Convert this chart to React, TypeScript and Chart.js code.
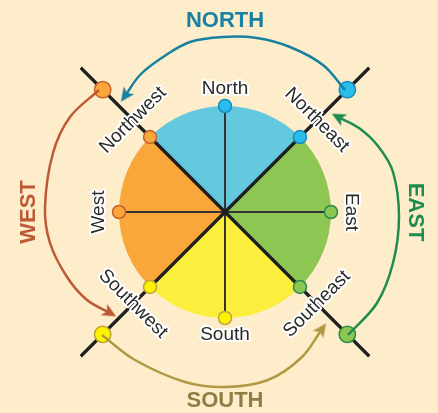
import React, { useEffect, useRef } from 'react';
import { Chart, registerables } from 'chart.js';

Chart.register(...registerables);

// ---------- data ----------
// Compass points on the disc (bearing = maths angle in degrees, 0 = east, 90 = north)
const directions = ['North', 'Northeast', 'East', 'Southeast', 'South', 'Southwest', 'West', 'Northwest'];
const bearings = [90, 45, 0, -45, -90, -135, 180, 135];
const directionTone = ['blue', 'blue', 'green', 'green', 'yellow', 'yellow', 'orange', 'orange'];

// Four quarters of the disc, clockwise from the top
const quarters = ['NORTH', 'EAST', 'SOUTH', 'WEST'];
const quarterBearing = [90, 0, -90, 180];
const quarterShare = [1, 1, 1, 1];
const quarterFill = ['#64C8DF', '#8DC653', '#FBEE3C', '#F9A73A'];
const quarterInk = ['#1880A0', '#1E8C50', '#8E7D45', '#BD5934'];
const arrowInk = ['#1880A0', '#1E8C50', '#B19944', '#BD5934'];

// Outer markers on the diagonals
const outerBearings = [45, -45, -135, 135];
const outerTone = ['blue', 'green', 'yellow', 'orange'];

// Curved arrows (offset from the centre in px, y up)
const northArrow = [[120, 122], [98, 147], [65, 165], [32, 174], [-2, 175], [-35, 170], [-62, 155], [-85, 137], [-100, 116]];
const eastArrow = [[123, -123], [152, -91], [168, -51], [174, -5], [168, 40], [153, 66], [134, 84], [113, 95]];
const southArrow = [[-123, -123], [-90, -148], [-40, -170], [0, -175], [43, -168], [77, -145], [97, -117]];
const westArrow = [[-126, 122], [-155, 95], [-172, 59], [-180, 5], [-175, -31], [-158, -65], [-138, -88], [-115, -101]];
const arrows = [northArrow, eastArrow, southArrow, westArrow];

// ---------- styles / geometry ----------
const BG = '#FEEDCA';
const DISC_R = 106;
const OUTER_R = 173;
const DIAG_R = 204;
const palette: Record<string, { fill: string; line: string }> = {
  blue: { fill: '#29BDEE', line: '#1A8CBC' },
  green: { fill: '#8DC653', line: '#2A8C4A' },
  yellow: { fill: '#FFF200', line: '#BDA53A' },
  orange: { fill: '#F9A73A', line: '#C8612E' },
};
const FONT = '"Liberation Sans", Arial, Helvetica, sans-serif';

const polar = (b: number, r: number) => ({
  x: r * Math.cos((b * Math.PI) / 180),
  y: r * Math.sin((b * Math.PI) / 180),
});
const readRot = (b: number) => (b >= 0 ? 90 - b : -90 - b);
const dirLabelR = (b: number) => (b % 90 !== 0 ? 130 : b === 0 || b === 180 ? 126.5 : 123);
const quarterLabelR: Record<string, number> = { NORTH: 191, EAST: 190, SOUTH: 189, WEST: 196 };
const OUTER_INDEX = 6;

// swept arrow-head sprite, pointing up (rotated by Chart.js pointRotation)
function arrowHead(color: string): HTMLCanvasElement {
  const c = document.createElement('canvas');
  c.width = 14;
  c.height = 15;
  const g = c.getContext('2d')!;
  g.fillStyle = color;
  g.beginPath();
  g.moveTo(7, 0.5);
  g.lineTo(13.5, 14.5);
  g.lineTo(7, 11);
  g.lineTo(0.5, 14.5);
  g.closePath();
  g.fill();
  return c;
}

const labelPlugin = {
  id: 'compassLabels',
  afterDatasetDraw(chart: any, args: any) {
    if (args.index !== OUTER_INDEX) return;
    const { ctx } = chart;
    const xs = chart.scales.x;
    const ys = chart.scales.y;
    ctx.save();
    ctx.font = `19px ${FONT}`;
    ctx.textAlign = 'center';
    ctx.textBaseline = 'middle';
    ctx.lineJoin = 'round';
    directions.forEach((name, i) => {
      const b = bearings[i];
      const p = polar(b, dirLabelR(b));
      ctx.save();
      ctx.translate(xs.getPixelForValue(p.x), ys.getPixelForValue(p.y));
      ctx.rotate((readRot(b) * Math.PI) / 180);
      ctx.strokeStyle = '#FFFFFF';
      ctx.lineWidth = 4;
      ctx.strokeText(name, 0, 0);
      ctx.fillStyle = '#2A2A2A';
      ctx.fillText(name, 0, 0);
      ctx.restore();
    });
    ctx.restore();
  },
  afterDatasetsDraw(chart: any) {
    const { ctx } = chart;
    const xs = chart.scales.x;
    const ys = chart.scales.y;
    ctx.save();
    ctx.font = `bold 22px ${FONT}`;
    ctx.textAlign = 'center';
    ctx.textBaseline = 'middle';
    quarters.forEach((name, i) => {
      const b = quarterBearing[i];
      const p = polar(b, quarterLabelR[name]);
      ctx.save();
      ctx.translate(xs.getPixelForValue(p.x), ys.getPixelForValue(p.y));
      ctx.rotate((readRot(b) * Math.PI) / 180);
      ctx.fillStyle = quarterInk[i];
      ctx.fillText(name, 0, 0);
      ctx.restore();
    });
    ctx.restore();
  },
};

function buildConfig(): any {
  const line = (pts: { x: number; y: number }[], color: string, width: number, order: number) => ({
    data: pts,
    showLine: true,
    borderColor: color,
    borderWidth: width,
    pointRadius: 0,
    order,
    weight: 0,
    clip: false,
  });

  const datasets: any[] = [
    {
      type: 'pie',
      data: quarterShare,
      backgroundColor: quarterFill,
      borderWidth: 0,
      hoverBorderWidth: 0,
      hoverOffset: 0,
      offset: 0,
      rotation: -45,
      cutout: 0,
      radius: DISC_R,
      order: 100,
      weight: 1,
    },
    line([polar(90, DISC_R), polar(-90, DISC_R)], '#333333', 2, 60),
    line([polar(0, DISC_R), polar(180, DISC_R)], '#333333', 2, 60),
    line([polar(135, DIAG_R), polar(-45, DIAG_R)], '#1E1E1E', 3.2, 50),
    line([polar(45, DIAG_R), polar(-135, DIAG_R)], '#1E1E1E', 3.2, 50),
    {
      data: bearings.map((b) => polar(b, DISC_R)),
      pointRadius: 6.5,
      pointBorderWidth: 1.5,
      pointBackgroundColor: directionTone.map((t) => palette[t].fill),
      pointBorderColor: directionTone.map((t) => palette[t].line),
      order: 40,
      weight: 0,
      clip: false,
    },
    {
      data: outerBearings.map((b) => polar(b, OUTER_R)),
      pointRadius: 8.2,
      pointBorderWidth: 1.5,
      pointBackgroundColor: outerTone.map((t) => palette[t].fill),
      pointBorderColor: outerTone.map((t) => palette[t].line),
      order: 30,
      weight: 0,
      clip: false,
    },
    ...arrows.map((path, i) => ({
      data: path.map(([x, y]) => ({ x, y })),
      showLine: true,
      borderColor: arrowInk[i],
      borderWidth: 2.5,
      tension: 0.35,
      pointStyle: arrowHead(arrowInk[i]),
      pointRadius: (c: any) =>
        c.dataIndex !== undefined && c.dataIndex === c.dataset.data.length - 1 ? 7 : 0,
      pointRotation: (c: any) => {
        const d = c.dataset.data;
        const k = c.dataIndex;
        if (k === undefined || k < 1) return 0;
        const a = d[k - 1];
        const b = d[k];
        return (Math.atan2(-(b.y - a.y), b.x - a.x) * 180) / Math.PI + 90;
      },
      pointBackgroundColor: arrowInk[i],
      pointBorderColor: arrowInk[i],
      pointBorderWidth: 0,
      order: 10,
      weight: 0,
      clip: false,
    })),
  ];

  return {
    type: 'scatter',
    data: { datasets },
    options: {
      responsive: false,
      animation: false,
      events: [],
      layout: { autoPadding: false, padding: { left: 12, top: 11, right: 0, bottom: 0 } },
      scales: {
        x: { type: 'linear', min: -213, max: 213, display: false },
        y: { type: 'linear', min: -201, max: 201, display: false },
      },
      plugins: {
        legend: { display: false },
        tooltip: { enabled: false },
      },
    },
    plugins: [labelPlugin],
  };
}

export default function App() {
  const ref = useRef<HTMLCanvasElement>(null);
  useEffect(() => {
    if (!ref.current) return;
    const chart = new Chart(ref.current, buildConfig());
    return () => chart.destroy();
  }, []);
  return (
    <div
      style={{
        position: 'fixed',
        left: 0,
        top: 0,
        width: 438,
        height: 413,
        background: BG,
        overflow: 'hidden',
      }}
    >
      <canvas ref={ref} width={438} height={413} style={{ display: 'block', width: 438, height: 413 }} />
    </div>
  );
}
